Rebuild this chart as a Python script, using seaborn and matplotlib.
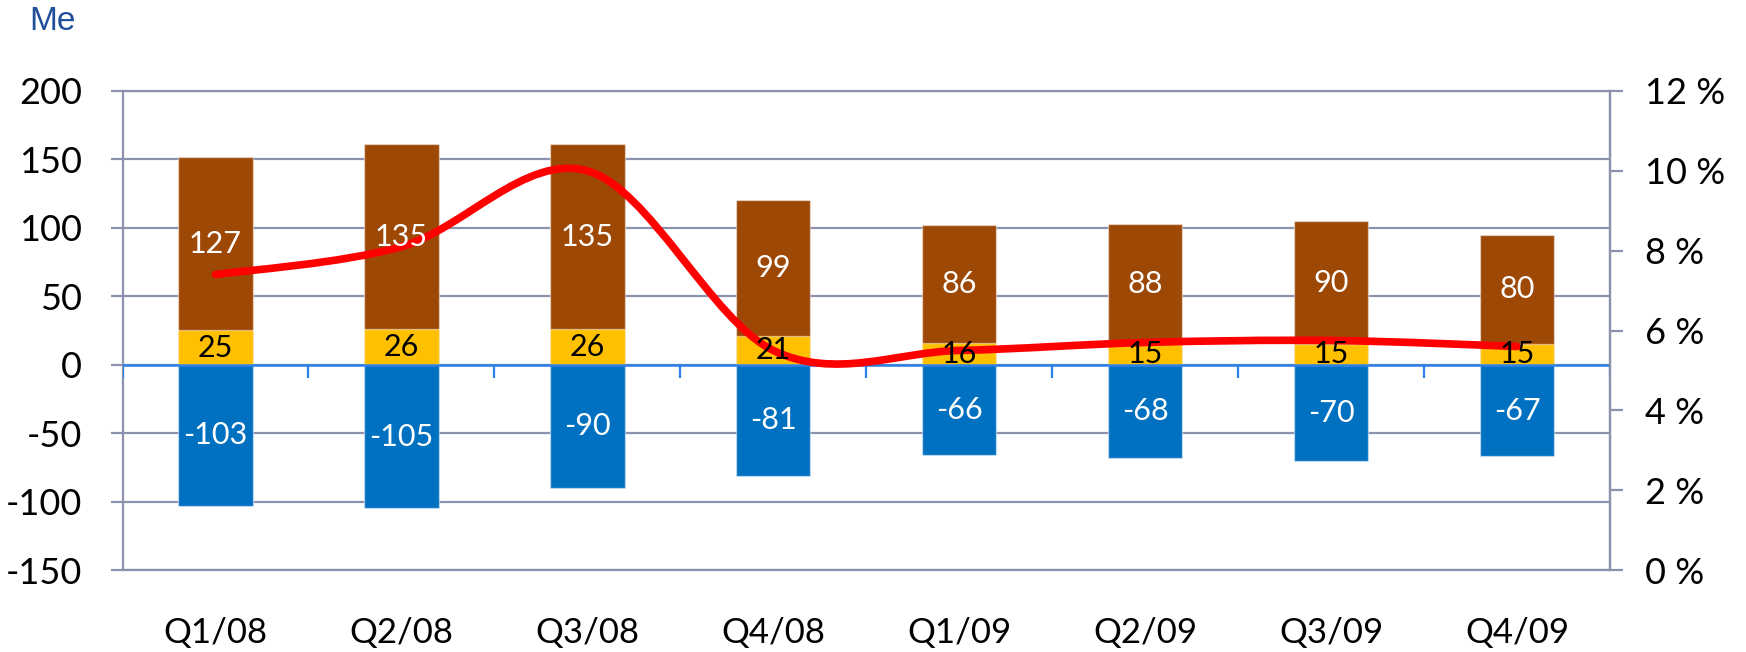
import numpy as np
import pandas as pd
import matplotlib
matplotlib.use("Agg")
import matplotlib.pyplot as plt
from matplotlib.path import Path
from matplotlib.patches import PathPatch
import seaborn as sns

# Quarterly figures (Me) and margin (%)
quarters = ["Q1/08", "Q2/08", "Q3/08", "Q4/08", "Q1/09", "Q2/09", "Q3/09", "Q4/09"]
yellow_vals = [25, 26, 26, 21, 16, 15, 15, 15]
brown_vals = [127, 135, 135, 99, 86, 88, 90, 80]
blue_vals = [-103, -105, -90, -81, -66, -68, -70, -67]
margin_pct = [7.4, 8.1, 10.0, 5.5, 5.5, 5.7, 5.75, 5.6]

left_ticks = [-150, -100, -50, 0, 50, 100, 150, 200]
right_ticks = [0, 2, 4, 6, 8, 10, 12]

BROWN = "#9E4806"
YELLOW = "#FFC000"
BLUE = "#0070C0"
RED = "#FF0000"
GRID = "#8A92AE"
ZERO = "#2A80E6"
TITLE_BLUE = "#1F4E9B"

sns.set_theme(style="white")
plt.rcParams["font.family"] = ["Lato", "DejaVu Sans"]

W, H = 1746, 652
fig = plt.figure(figsize=(W / 100, H / 100), dpi=100)
x0, x1, y0, y1 = 122.5, 1610, 91, 570
ax = fig.add_axes([x0 / W, 1 - y1 / H, (x1 - x0) / W, (y1 - y0) / H])

df = pd.DataFrame({
    "quarter": quarters,
    "yellow": yellow_vals,
    "brown": brown_vals,
    "blue": blue_vals,
})
df["stack_top"] = df["yellow"] + df["brown"]

bar_kw = dict(order=quarters, width=0.4, saturation=1, ax=ax,
              edgecolor=(1, 1, 1, 0.45), linewidth=1, zorder=3)
sns.barplot(data=df, x="quarter", y="stack_top", color=BROWN, **bar_kw)
sns.barplot(data=df, x="quarter", y="yellow", color=YELLOW, **bar_kw)
sns.barplot(data=df, x="quarter", y="blue", color=BLUE, **bar_kw)

ax.set_xlim(-0.5, len(quarters) - 0.5)
ax.set_ylim(-150, 200)
ax.set_yticks(left_ticks)
ax.set_yticklabels([str(v) for v in left_ticks])
ax.grid(axis="y", color=GRID, linewidth=1.6, zorder=0)
ax.set_axisbelow(True)
ax.set_xlabel("")
ax.set_ylabel("")
for side in ["left", "top", "bottom", "right"]:
    ax.spines[side].set_color(GRID)
    ax.spines[side].set_linewidth(1.6)
ax.tick_params(axis="y", which="major", left=True, length=9, width=1.6,
               color=GRID, pad=20, labelsize=26, labelcolor="black")
ax.tick_params(axis="x", length=0, pad=34, labelsize=25, labelcolor="black")

# Horizontal zero line with category separators hanging below it
ax.axhline(0, color=ZERO, linewidth=1.8, zorder=4)
ax.vlines(np.arange(-0.5, len(quarters)), -9.5, 0, color=ZERO,
          linewidth=1.6, zorder=4)

# Secondary axis for the margin line
ax2 = ax.twinx()
ax2.set_ylim(0, 12)
ax2.set_yticks(right_ticks)
ax2.set_yticklabels([f"{v} %" for v in right_ticks])
ax2.grid(False)
for side in ["left", "top", "bottom"]:
    ax2.spines[side].set_visible(False)
ax2.spines["right"].set_color(GRID)
ax2.spines["right"].set_linewidth(1.6)
ax2.tick_params(axis="y", right=True, length=9, width=1.6, color=GRID,
                pad=16, labelsize=26, labelcolor="black")

# Smoothed margin curve (cubic Bezier through each quarter's value)
pts = np.column_stack([np.arange(len(margin_pct)), margin_pct]).astype(float)
ext = np.vstack([pts[0], pts, pts[-1]])
verts = [tuple(pts[0])]
codes = [Path.MOVETO]
for i in range(len(pts) - 1):
    p_prev, p0, p1, p_next = ext[i], ext[i + 1], ext[i + 2], ext[i + 3]
    c1 = p0 + (p1 - p_prev) / 6.0
    c2 = p1 - (p_next - p0) / 6.0
    verts += [tuple(c1), tuple(c2), tuple(p1)]
    codes += [Path.CURVE4] * 3
curve = PathPatch(Path(verts, codes), facecolor="none", edgecolor=RED,
                  linewidth=5.5, capstyle="round", joinstyle="round", zorder=5)
ax2.add_patch(curve)

# Value labels centred in each segment
for i in range(len(quarters)):
    y_val, b_val, n_val = yellow_vals[i], brown_vals[i], blue_vals[i]
    ax2.text(i, y_val / 2, str(y_val), transform=ax.transData, ha="center",
             va="center", fontsize=22, color="black", zorder=6)
    ax2.text(i, y_val + b_val / 2, str(b_val), transform=ax.transData,
             ha="center", va="center", fontsize=22, color="white", zorder=6)
    ax2.text(i, n_val / 2, str(n_val), transform=ax.transData, ha="center",
             va="center", fontsize=22, color="white", zorder=6)

fig.text(29 / W, 1 - 22 / H, "Me", fontsize=24, color=TITLE_BLUE,
         family=["Liberation Sans", "DejaVu Sans"], ha="left", va="center")

fig.savefig("out.png", dpi=100, facecolor="white")
